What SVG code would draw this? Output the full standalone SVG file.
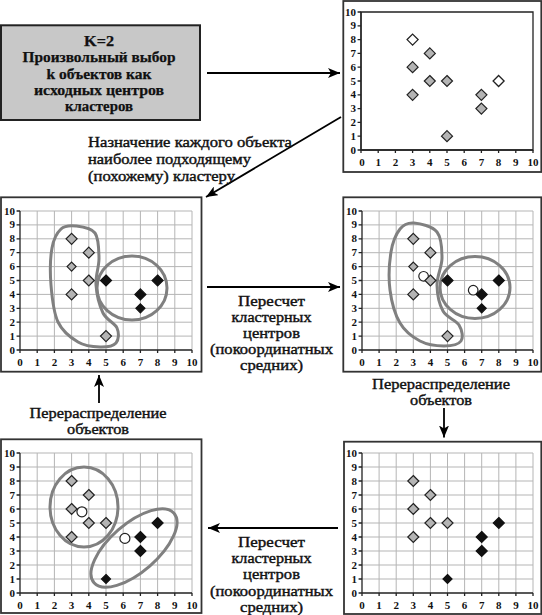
<svg xmlns="http://www.w3.org/2000/svg" xmlns:xlink="http://www.w3.org/1999/xlink" width="542" height="615" viewBox="0 0 542 615">
<style>
.frame{fill:#fff;stroke:#333;stroke-width:1.8}
.grid{fill:none;stroke:#b5b5b5;stroke-width:1}
.axis{fill:none;stroke:#222;stroke-width:1.3}
.clu{fill:none;stroke:#808080;stroke-width:3}
.tk{font-family:"Liberation Serif","Times New Roman",serif;font-size:11px;font-weight:bold;fill:#111}
.lbl{font-family:"Liberation Serif","Times New Roman",serif;font-size:14.5px;fill:#111;stroke:#111;stroke-width:0.4}
.ctr{text-anchor:middle}
.box{fill:#c8c8c8;stroke:#222;stroke-width:2}
.boxt{font-family:"Liberation Serif","Times New Roman",serif;font-size:14.5px;font-weight:bold;fill:#111;stroke:#111;stroke-width:0.25;text-anchor:middle}
.arr{stroke:#000;stroke-width:1.8;fill:none;marker-end:url(#ah)}
.cir{fill:#fff;stroke:#222;stroke-width:1.2}
</style>
<defs>
<marker id="ah" viewBox="0 0 12 10" refX="12" refY="5" markerWidth="12" markerHeight="10" markerUnits="userSpaceOnUse" orient="auto">
<path d="M0,0L12,5L0,10L3,5Z" fill="#000"/>
</marker>
<path id="gridU" class="grid" vector-effect="non-scaling-stroke" d="M1,0V10M2,0V10M3,0V10M4,0V10M5,0V10M6,0V10M7,0V10M8,0V10M9,0V10M10,0V10M0,1H10M0,2H10M0,3H10M0,4H10M0,5H10M0,6H10M0,7H10M0,8H10M0,9H10M0,10H10"/>
<path id="axU" class="axis" vector-effect="non-scaling-stroke" d="M0,0V10M0,0H10M-0.2,0H0M-0.2,1H0M-0.2,2H0M-0.2,3H0M-0.2,4H0M-0.2,5H0M-0.2,6H0M-0.2,7H0M-0.2,8H0M-0.2,9H0M-0.2,10H0M0,0V-0.22M1,0V-0.22M2,0V-0.22M3,0V-0.22M4,0V-0.22M5,0V-0.22M6,0V-0.22M7,0V-0.22M8,0V-0.22M9,0V-0.22M10,0V-0.22"/>
<path id="boxU" class="axis" vector-effect="non-scaling-stroke" d="M0,0H10V10H0Z"/>
<path id="dg" d="M0,-5.5L5.5,0L0,5.5L-5.5,0Z" fill="#b4b4b4" stroke="#222" stroke-width="1.2"/>
<path id="dgs" d="M0,-4.5L4.5,0L0,4.5L-4.5,0Z" fill="#b4b4b4" stroke="#222" stroke-width="1.2"/>
<path id="db" d="M0,-5.5L5.5,0L0,5.5L-5.5,0Z" fill="#111" stroke="#111" stroke-width="1.2"/>
<path id="dbs" d="M0,-4.5L4.5,0L0,4.5L-4.5,0Z" fill="#111" stroke="#111" stroke-width="1.2"/>
<path id="dw" d="M0,-5.5L5.5,0L0,5.5L-5.5,0Z" fill="#fff" stroke="#222" stroke-width="1.3"/>
</defs>
<rect width="542" height="615" fill="#fff"/>

<g id="start-box">
<rect class="box" x="1" y="25.3" width="199" height="94.7"/>
<text class="boxt" x="99" y="46" textLength="30" lengthAdjust="spacingAndGlyphs">K=2</text>
<text class="boxt" x="99" y="62.3" textLength="153" lengthAdjust="spacingAndGlyphs">Произвольный выбор</text>
<text class="boxt" x="99" y="78.6" textLength="105" lengthAdjust="spacingAndGlyphs">k объектов как</text>
<text class="boxt" x="99" y="94.9" textLength="130" lengthAdjust="spacingAndGlyphs">исходных центров</text>
<text class="boxt" x="99" y="111.2" textLength="68" lengthAdjust="spacingAndGlyphs">кластеров</text>
</g>

<g id="chart-initial">
<rect class="frame" x="343.3" y="1" width="198" height="171"/>
<use xlink:href="#boxU" transform="translate(361,150) scale(17.2,-13.8)"/>
<use xlink:href="#axU" transform="translate(361,150) scale(17.2,-13.8)"/>
<text class="tk" text-anchor="end"><tspan x="356" y="153.5">0</tspan><tspan x="356" y="139.7">1</tspan><tspan x="356" y="125.9">2</tspan><tspan x="356" y="112.1">3</tspan><tspan x="356" y="98.3">4</tspan><tspan x="356" y="84.5">5</tspan><tspan x="356" y="70.7">6</tspan><tspan x="356" y="56.9">7</tspan><tspan x="356" y="43.1">8</tspan><tspan x="356" y="29.3">9</tspan><tspan x="356" y="15.5">10</tspan></text>
<text class="tk" text-anchor="middle"><tspan x="362" y="165.5">0</tspan><tspan x="378.2" y="165.5">1</tspan><tspan x="395.4" y="165.5">2</tspan><tspan x="412.6" y="165.5">3</tspan><tspan x="429.8" y="165.5">4</tspan><tspan x="447" y="165.5">5</tspan><tspan x="464.2" y="165.5">6</tspan><tspan x="481.4" y="165.5">7</tspan><tspan x="498.6" y="165.5">8</tspan><tspan x="515.8" y="165.5">9</tspan><tspan x="533" y="165.5">10</tspan></text>
<use xlink:href="#dw" x="412.6" y="39.6"/>
<use xlink:href="#dg" x="412.6" y="67.2"/>
<use xlink:href="#dg" x="412.6" y="94.8"/>
<use xlink:href="#dg" x="429.8" y="53.4"/>
<use xlink:href="#dg" x="429.8" y="81"/>
<use xlink:href="#dg" x="447" y="81"/>
<use xlink:href="#dg" x="447" y="136.2"/>
<use xlink:href="#dg" x="481.4" y="94.8"/>
<use xlink:href="#dg" x="481.4" y="108.6"/>
<use xlink:href="#dw" x="498.6" y="81"/>
</g>

<g id="chart-assign">
<rect class="frame" x="1" y="197.3" width="200.5" height="174.4"/>
<use xlink:href="#gridU" transform="translate(20,350) scale(17.2,-13.9)"/>
<use xlink:href="#axU" transform="translate(20,350) scale(17.2,-13.9)"/>
<text class="tk" text-anchor="end"><tspan x="15" y="353.5">0</tspan><tspan x="15" y="339.6">1</tspan><tspan x="15" y="325.7">2</tspan><tspan x="15" y="311.8">3</tspan><tspan x="15" y="297.9">4</tspan><tspan x="15" y="284">5</tspan><tspan x="15" y="270.1">6</tspan><tspan x="15" y="256.2">7</tspan><tspan x="15" y="242.3">8</tspan><tspan x="15" y="228.4">9</tspan><tspan x="15" y="214.5">10</tspan></text>
<text class="tk" text-anchor="middle"><tspan x="20" y="365.5">0</tspan><tspan x="37.2" y="365.5">1</tspan><tspan x="54.4" y="365.5">2</tspan><tspan x="71.6" y="365.5">3</tspan><tspan x="88.8" y="365.5">4</tspan><tspan x="106" y="365.5">5</tspan><tspan x="123.2" y="365.5">6</tspan><tspan x="140.4" y="365.5">7</tspan><tspan x="157.6" y="365.5">8</tspan><tspan x="174.8" y="365.5">9</tspan><tspan x="192" y="365.5">10</tspan></text>
<path class="clu" d="M76,226C81.67,226.67 91.17,227.67 95,233C98.83,238.33 98.83,249.33 99,258C99.17,266.67 95.33,275.83 96,285C96.67,294.17 99.5,305.83 103,313C106.5,320.17 114.83,323 117,328C119.17,333 118.83,339.83 116,343C113.17,346.17 106.33,347.17 100,347C93.67,346.83 85,346.17 78,342C71,337.83 62.5,331.5 58,322C53.5,312.5 52,297.33 51,285C50,272.67 50.33,257.33 52,248C53.67,238.67 57,232.67 61,229C65,225.33 70.33,225.33 76,226Z"/>
<ellipse class="clu" cx="132" cy="288" rx="35" ry="32"/>
<use xlink:href="#dg" x="71.6" y="238.8"/>
<use xlink:href="#dg" x="88.8" y="252.7"/>
<use xlink:href="#dgs" x="71.6" y="266.6"/>
<use xlink:href="#dg" x="88.8" y="280.5"/>
<use xlink:href="#dg" x="71.6" y="294.4"/>
<use xlink:href="#dg" x="106" y="336.1"/>
<use xlink:href="#db" x="106" y="280.5"/>
<use xlink:href="#db" x="157.6" y="280.5"/>
<use xlink:href="#db" x="140.4" y="294.4"/>
<use xlink:href="#dbs" x="140.4" y="308.3"/>
</g>

<g id="chart-centers">
<rect class="frame" x="343.3" y="197.3" width="198" height="174.4"/>
<use xlink:href="#gridU" transform="translate(362,350) scale(17.1,-13.9)"/>
<use xlink:href="#axU" transform="translate(362,350) scale(17.1,-13.9)"/>
<text class="tk" text-anchor="end"><tspan x="357" y="353.5">0</tspan><tspan x="357" y="339.6">1</tspan><tspan x="357" y="325.7">2</tspan><tspan x="357" y="311.8">3</tspan><tspan x="357" y="297.9">4</tspan><tspan x="357" y="284">5</tspan><tspan x="357" y="270.1">6</tspan><tspan x="357" y="256.2">7</tspan><tspan x="357" y="242.3">8</tspan><tspan x="357" y="228.4">9</tspan><tspan x="357" y="214.5">10</tspan></text>
<text class="tk" text-anchor="middle"><tspan x="362" y="365.5">0</tspan><tspan x="379.1" y="365.5">1</tspan><tspan x="396.2" y="365.5">2</tspan><tspan x="413.3" y="365.5">3</tspan><tspan x="430.4" y="365.5">4</tspan><tspan x="447.5" y="365.5">5</tspan><tspan x="464.6" y="365.5">6</tspan><tspan x="481.7" y="365.5">7</tspan><tspan x="498.8" y="365.5">8</tspan><tspan x="515.9" y="365.5">9</tspan><tspan x="533" y="365.5">10</tspan></text>
<path class="clu" d="M414,223C420.17,223.5 432.33,226.17 437,232C441.67,237.83 442,249.17 442,258C442,266.83 436.83,276.17 437,285C437.17,293.83 439.33,304.33 443,311C446.67,317.67 456,320 459,325C462,330 463.5,337.5 461,341C458.5,344.5 450.83,346 444,346C437.17,346 427.33,344.83 420,341C412.67,337.17 405,331.5 400,323C395,314.5 391.5,301.83 390,290C388.5,278.17 389.33,262.17 391,252C392.67,241.83 396.17,233.83 400,229C403.83,224.17 407.83,222.5 414,223Z"/>
<ellipse class="clu" cx="475" cy="287.5" rx="35" ry="31"/>
<circle class="cir" cx="423.6" cy="276.3" r="4.8"/>
<circle class="cir" cx="473.2" cy="290.2" r="4.8"/>
<use xlink:href="#dg" x="413.3" y="238.8"/>
<use xlink:href="#dg" x="430.4" y="252.7"/>
<use xlink:href="#dgs" x="413.3" y="266.6"/>
<use xlink:href="#dg" x="430.4" y="280.5"/>
<use xlink:href="#dg" x="413.3" y="294.4"/>
<use xlink:href="#dg" x="447.5" y="336.1"/>
<use xlink:href="#db" x="447.5" y="280.5"/>
<use xlink:href="#db" x="498.8" y="280.5"/>
<use xlink:href="#db" x="481.7" y="294.4"/>
<use xlink:href="#dbs" x="481.7" y="308.3"/>
</g>

<g id="chart-reassign">
<rect class="frame" x="344" y="441.7" width="197.3" height="172.3"/>
<use xlink:href="#gridU" transform="translate(362,593) scale(17.1,-14)"/>
<use xlink:href="#axU" transform="translate(362,593) scale(17.1,-14)"/>
<text class="tk" text-anchor="end"><tspan x="357" y="596.5">0</tspan><tspan x="357" y="582.5">1</tspan><tspan x="357" y="568.5">2</tspan><tspan x="357" y="554.5">3</tspan><tspan x="357" y="540.5">4</tspan><tspan x="357" y="526.5">5</tspan><tspan x="357" y="512.5">6</tspan><tspan x="357" y="498.5">7</tspan><tspan x="357" y="484.5">8</tspan><tspan x="357" y="470.5">9</tspan><tspan x="357" y="456.5">10</tspan></text>
<text class="tk" text-anchor="middle"><tspan x="362" y="608.5">0</tspan><tspan x="379.1" y="608.5">1</tspan><tspan x="396.2" y="608.5">2</tspan><tspan x="413.3" y="608.5">3</tspan><tspan x="430.4" y="608.5">4</tspan><tspan x="447.5" y="608.5">5</tspan><tspan x="464.6" y="608.5">6</tspan><tspan x="481.7" y="608.5">7</tspan><tspan x="498.8" y="608.5">8</tspan><tspan x="515.9" y="608.5">9</tspan><tspan x="533" y="608.5">10</tspan></text>
<use xlink:href="#dg" x="413.3" y="481"/>
<use xlink:href="#dg" x="430.4" y="495"/>
<use xlink:href="#dg" x="413.3" y="509"/>
<use xlink:href="#dg" x="430.4" y="523"/>
<use xlink:href="#dg" x="447.5" y="523"/>
<use xlink:href="#dg" x="413.3" y="537"/>
<use xlink:href="#db" x="498.8" y="523"/>
<use xlink:href="#db" x="481.7" y="537"/>
<use xlink:href="#db" x="481.7" y="551"/>
<use xlink:href="#dbs" x="447.5" y="579"/>
</g>

<g id="chart-newcenters">
<rect class="frame" x="1" y="439.3" width="200.5" height="173.7"/>
<use xlink:href="#gridU" transform="translate(20,593) scale(17.2,-14)"/>
<use xlink:href="#axU" transform="translate(20,593) scale(17.2,-14)"/>
<text class="tk" text-anchor="end"><tspan x="15" y="596.5">0</tspan><tspan x="15" y="582.5">1</tspan><tspan x="15" y="568.5">2</tspan><tspan x="15" y="554.5">3</tspan><tspan x="15" y="540.5">4</tspan><tspan x="15" y="526.5">5</tspan><tspan x="15" y="512.5">6</tspan><tspan x="15" y="498.5">7</tspan><tspan x="15" y="484.5">8</tspan><tspan x="15" y="470.5">9</tspan><tspan x="15" y="456.5">10</tspan></text>
<text class="tk" text-anchor="middle"><tspan x="20" y="608.5">0</tspan><tspan x="37.2" y="608.5">1</tspan><tspan x="54.4" y="608.5">2</tspan><tspan x="71.6" y="608.5">3</tspan><tspan x="88.8" y="608.5">4</tspan><tspan x="106" y="608.5">5</tspan><tspan x="123.2" y="608.5">6</tspan><tspan x="140.4" y="608.5">7</tspan><tspan x="157.6" y="608.5">8</tspan><tspan x="174.8" y="608.5">9</tspan><tspan x="192" y="608.5">10</tspan></text>
<ellipse class="clu" cx="84" cy="507" rx="34" ry="40"/>
<ellipse class="clu" cx="134" cy="548" rx="53" ry="24" transform="rotate(-41 134 548)"/>
<circle class="cir" cx="81.9" cy="511.8" r="5"/>
<circle class="cir" cx="124.9" cy="538.4" r="5"/>
<use xlink:href="#dg" x="71.6" y="481"/>
<use xlink:href="#dg" x="88.8" y="495"/>
<use xlink:href="#dg" x="71.6" y="509"/>
<use xlink:href="#dg" x="88.8" y="523"/>
<use xlink:href="#dg" x="106" y="523"/>
<use xlink:href="#dg" x="71.6" y="537"/>
<use xlink:href="#db" x="157.6" y="523"/>
<use xlink:href="#db" x="140.4" y="537"/>
<use xlink:href="#db" x="140.4" y="551"/>
<use xlink:href="#dbs" x="106" y="579"/>
</g>

<g id="connectors">
<line class="arr" x1="207" y1="73" x2="340" y2="73"/>
<line class="arr" x1="341" y1="117" x2="206" y2="197"/>
<line class="arr" x1="207" y1="287" x2="340" y2="287"/>
<line class="arr" x1="444" y1="408" x2="444" y2="437.5"/>
<line class="arr" x1="338" y1="528" x2="208" y2="528"/>
<line class="arr" x1="99" y1="403" x2="99" y2="375"/>
</g>

<g id="connector-labels">
<text class="lbl" x="88" y="146.5" textLength="204" lengthAdjust="spacingAndGlyphs">Назначение каждого объекта</text>
<text class="lbl" x="88" y="164" textLength="163" lengthAdjust="spacingAndGlyphs">наиболее подходящему</text>
<text class="lbl" x="88" y="180.5" textLength="147" lengthAdjust="spacingAndGlyphs">(похожему) кластеру</text>

<text class="lbl ctr" x="271.5" y="305.5" textLength="67" lengthAdjust="spacingAndGlyphs">Пересчет</text>
<text class="lbl ctr" x="271.5" y="321.7" textLength="80" lengthAdjust="spacingAndGlyphs">кластерных</text>
<text class="lbl ctr" x="271.5" y="337.9" textLength="57" lengthAdjust="spacingAndGlyphs">центров</text>
<text class="lbl ctr" x="271.5" y="354.1" textLength="123" lengthAdjust="spacingAndGlyphs">(покоординатных</text>
<text class="lbl ctr" x="271.5" y="370.3" textLength="63" lengthAdjust="spacingAndGlyphs">средних)</text>

<text class="lbl ctr" x="271.5" y="547" textLength="67" lengthAdjust="spacingAndGlyphs">Пересчет</text>
<text class="lbl ctr" x="271.5" y="563.2" textLength="80" lengthAdjust="spacingAndGlyphs">кластерных</text>
<text class="lbl ctr" x="271.5" y="579.4" textLength="57" lengthAdjust="spacingAndGlyphs">центров</text>
<text class="lbl ctr" x="271.5" y="595.6" textLength="123" lengthAdjust="spacingAndGlyphs">(покоординатных</text>
<text class="lbl ctr" x="271.5" y="611.8" textLength="63" lengthAdjust="spacingAndGlyphs">средних)</text>

<text class="lbl ctr" x="98" y="417.5" textLength="137" lengthAdjust="spacingAndGlyphs">Перераспределение</text>
<text class="lbl ctr" x="98" y="433.7" textLength="62" lengthAdjust="spacingAndGlyphs">объектов</text>

<text class="lbl ctr" x="441" y="388.5" stroke-width="0.6" textLength="138" lengthAdjust="spacingAndGlyphs">Перераспределение</text>
<text class="lbl ctr" x="441" y="404.7" stroke-width="0.6" textLength="62" lengthAdjust="spacingAndGlyphs">объектов</text>
</g>
</svg>
